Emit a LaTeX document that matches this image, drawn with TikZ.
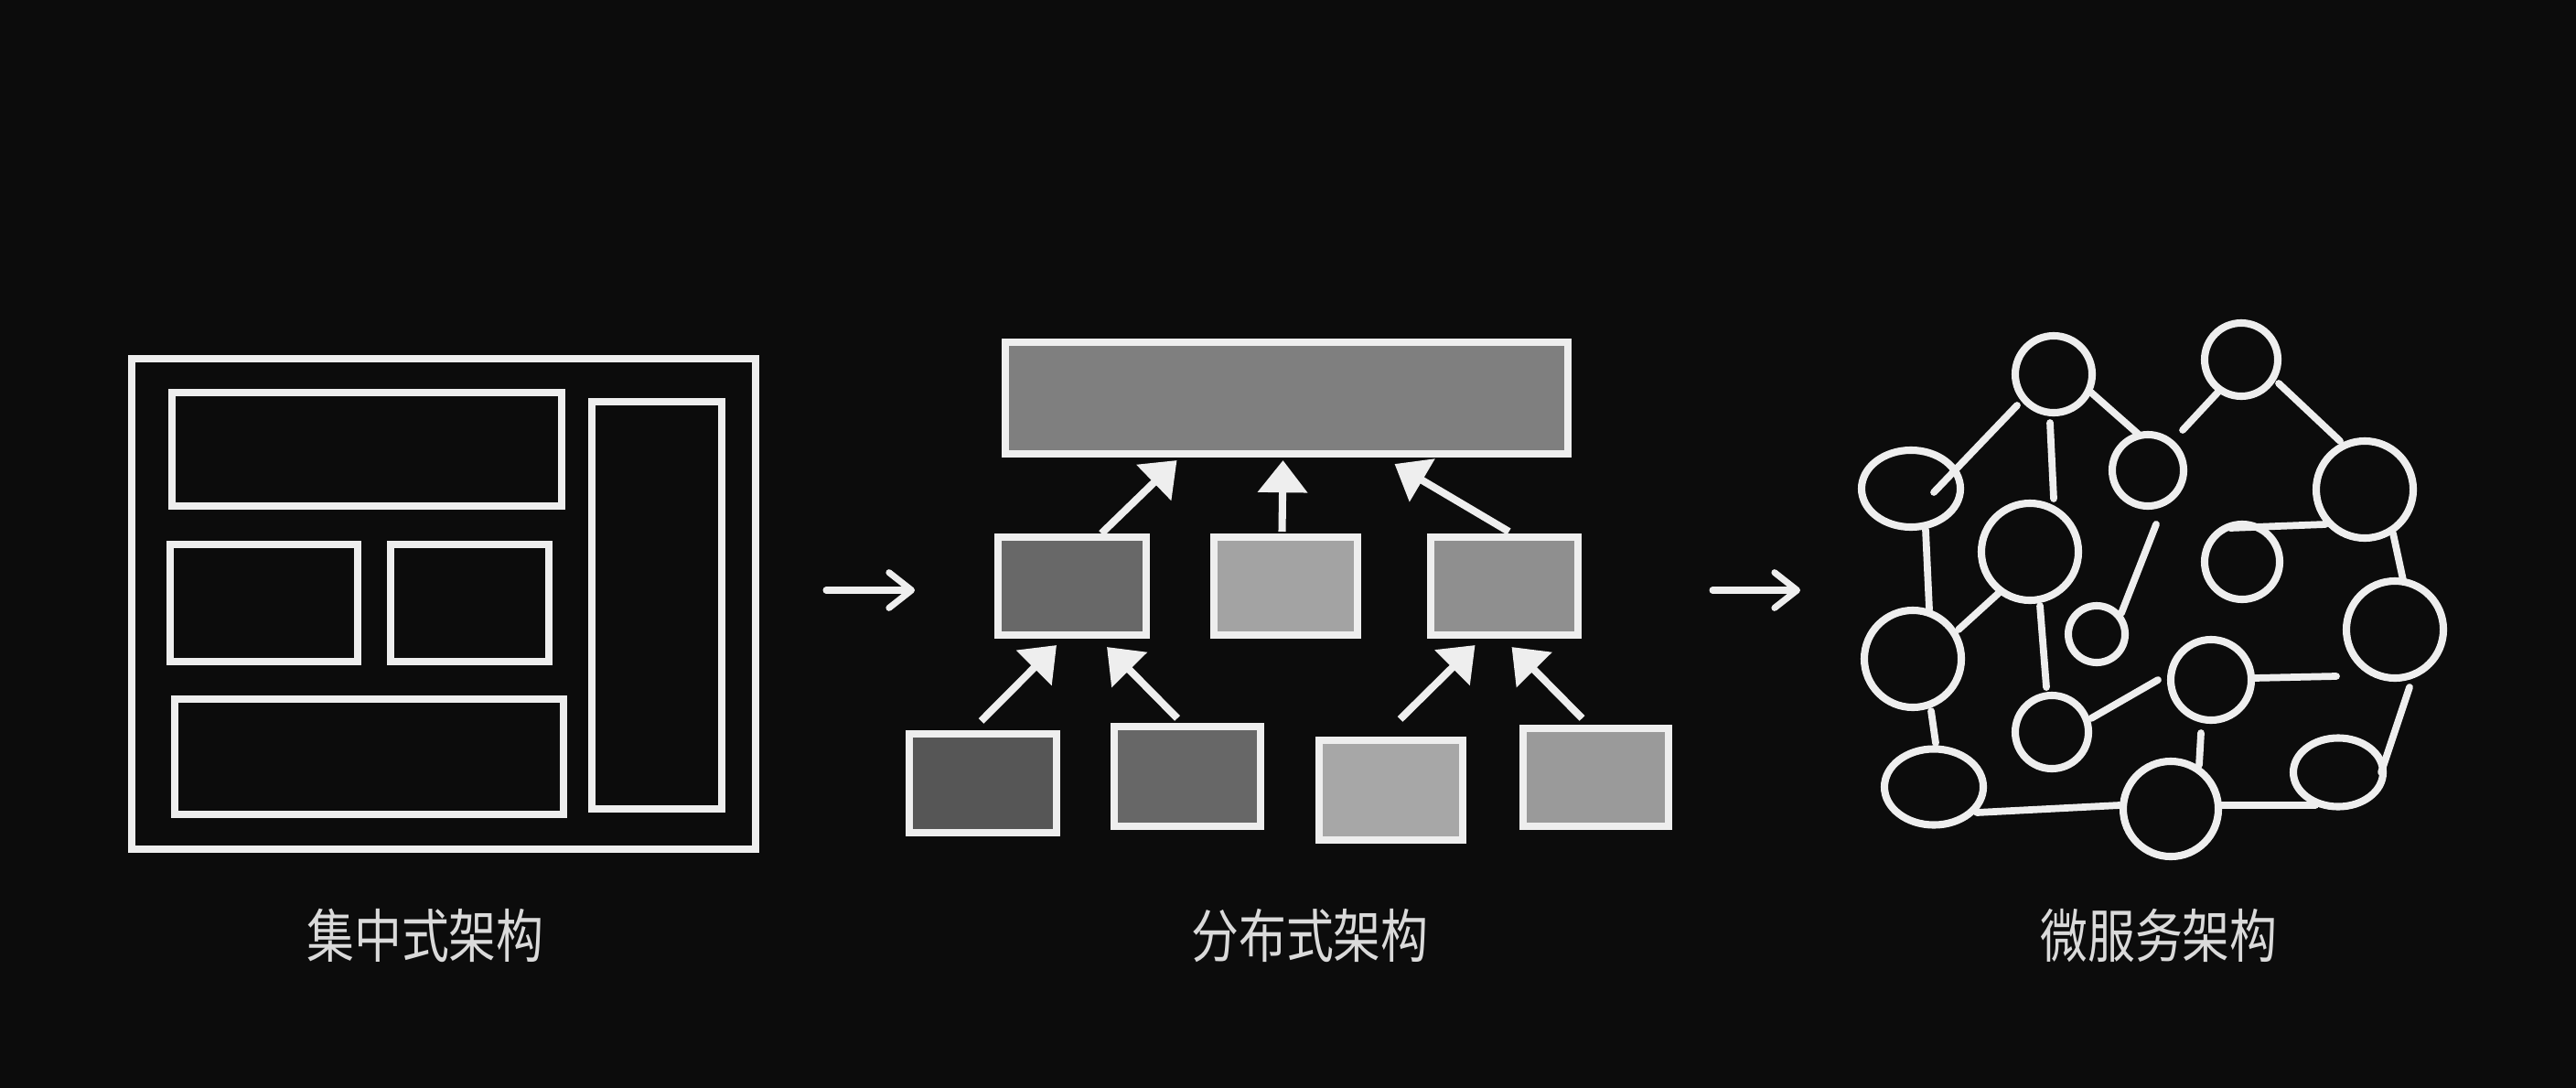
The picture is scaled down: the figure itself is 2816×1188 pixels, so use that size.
\documentclass[tikz,border=0pt]{standalone}
\usepackage{fontspec}
\newfontfamily\cjk{Noto Sans CJK SC}
\usetikzlibrary{arrows.meta,shapes.geometric,calc}
\definecolor{bg}{HTML}{0C0C0C}
\definecolor{chalk}{HTML}{EEEEEE}
\definecolor{labelc}{HTML}{DADADA}
\definecolor{gtop}{HTML}{7F7F7F}
\definecolor{gml}{HTML}{686868}
\definecolor{gmm}{HTML}{A3A3A3}
\definecolor{gmr}{HTML}{8F8F8F}
\definecolor{gbone}{HTML}{565656}
\definecolor{gbtwo}{HTML}{676767}
\definecolor{gbthree}{HTML}{A7A7A7}
\definecolor{gbfour}{HTML}{9A9A9A}
\tikzset{
  frame/.style={rectangle, draw=chalk, line width=2.3pt, inner sep=0pt, outer sep=0pt, fill=bg},
  gbox/.style={frame, fill=#1},
  ring/.style={circle, draw=chalk, line width=2.3pt, inner sep=0pt, outer sep=0pt, minimum size=#1},
  oval/.style 2 args={ellipse, draw=chalk, line width=2.3pt, inner sep=0pt, outer sep=0pt, minimum width=#1, minimum height=#2},
  link/.style={draw=chalk, line width=2.2pt, line cap=round},
  upar/.style={draw=chalk, line width=2.3pt, -{Triangle[width=15pt,length=10pt]}},
  flow/.style={draw=chalk, line width=2pt, line cap=round, -{Straight Barb[length=7pt,width=11pt,line cap=round,line join=round]}},
  title/.style={text=labelc, font=\cjk\fontsize{18pt}{20pt}\selectfont, inner sep=0pt}
}
\begin{document}
\begin{tikzpicture}[x=0.01cm,y=-0.01cm]
\useasboundingbox (0,0) rectangle (2816,1188);
\fill[bg] (-20,-20) rectangle (2836,1208);

% ---------- panel 1: centralized ----------
\node[frame, minimum width=6.82cm, minimum height=5.36cm] (outer) at (485,660) {};
\node[frame, minimum width=4.26cm, minimum height=1.24cm] (p1top) at (401,491) {};
\node[frame, minimum width=2.05cm, minimum height=1.28cm] (p1ml) at (288.5,659) {};
\node[frame, minimum width=1.73cm, minimum height=1.28cm] (p1mr) at (513.5,659) {};
\node[frame, minimum width=4.25cm, minimum height=1.26cm] (p1bot) at (403.5,827) {};
\node[frame, minimum width=1.42cm, minimum height=4.45cm] (p1side) at (718,661.5) {};
\node[title] (t1) at (465,1022) {\scalebox{0.82}[1]{集中式架构}};

% ---------- panel 2: distributed ----------
\node[gbox=gtop, minimum width=6.15cm, minimum height=1.22cm] (top) at (1406.5,435) {};
\node[gbox=gml, minimum width=1.62cm, minimum height=1.07cm] (ml) at (1172,640.5) {};
\node[gbox=gmm, minimum width=1.57cm, minimum height=1.07cm] (mm) at (1405.5,640.5) {};
\node[gbox=gmr, minimum width=1.61cm, minimum height=1.07cm] (mr) at (1644.5,640.5) {};
\node[gbox=gbone, minimum width=1.61cm, minimum height=1.08cm] (b1) at (1074.5,856) {};
\node[gbox=gbtwo, minimum width=1.60cm, minimum height=1.09cm] (b2) at (1298,848.5) {};
\node[gbox=gbthree, minimum width=1.57cm, minimum height=1.09cm] (b3) at (1520.5,863.5) {};
\node[gbox=gbfour, minimum width=1.59cm, minimum height=1.07cm] (b4) at (1744.5,849.5) {};
\node[title] (t2) at (1432,1022) {\scalebox{0.82}[1]{分布式架构}};

\draw[upar] ($(ml.north)+(32,-4)$) -- ($(top.south)+(-120,7)$);
\draw[upar] ($(mm.north)+(-4,-6)$) -- ($(top.south)+(-4,7)$);
\draw[upar] ($(mr.north)+(5,-6)$) -- ($(top.south)+(118,11)$);
\draw[upar] ($(b1.north)+(-2,-14)$) -- ($(ml.south)+(-17,11)$);
\draw[upar] ($(b2.north)+(-11,-9)$) -- ($(ml.south)+(38,13)$);
\draw[upar] ($(b3.north)+(10,-23)$) -- ($(mr.south)+(-32,11)$);
\draw[upar] ($(b4.north)+(-15,-11)$) -- ($(mr.south)+(8,13)$);

% ---------- panel arrows ----------
\coordinate (f1s) at (903,645);
\coordinate (f1e) at (1000,645);
\coordinate (f2s) at (1872,645);
\coordinate (f2e) at (1968,645);
\draw[flow] (f1s) -- (f1e);
\draw[flow] (f2s) -- (f2e);

% ---------- panel 3: microservices ----------
\node[ring=0.84cm] (c1) at (2245,409) {};
\node[ring=0.80cm] (c2) at (2450,393) {};
\node[ring=0.78cm] (c3) at (2348,514) {};
\node[oval={1.08cm}{0.84cm}] (c4) at (2089,534) {};
\node[ring=1.06cm] (c5) at (2219,603) {};
\node[ring=1.06cm] (c6) at (2585,535) {};
\node[ring=0.82cm] (c7) at (2451,614) {};
\node[ring=1.06cm] (c8) at (2091,720) {};
\node[ring=0.62cm] (c9) at (2292,693) {};
\node[ring=1.06cm] (c10) at (2618,688) {};
\node[ring=0.88cm] (c11) at (2417,743) {};
\node[ring=0.80cm] (c12) at (2243,800) {};
\node[oval={1.08cm}{0.83cm}] (c13) at (2114,860) {};
\node[ring=1.04cm] (c14) at (2373,884) {};
\node[oval={0.98cm}{0.75cm}] (c15) at (2556,844) {};
\node[title] (t3) at (2360,1022) {\scalebox{0.82}[1]{微服务架构}};

\draw[link] ($(c4)+(25,4)$) -- ($(c1)+(-40,34)$);
\draw[link] ($(c1)+(-4,53)$) -- ($(c5)+(26,-58)$);
\draw[link] ($(c1)+(41,20)$) -- ($(c3)+(-11,-40)$);
\draw[link] ($(c3)+(38,-44)$) -- ($(c2)+(-24,34)$);
\draw[link] ($(c2)+(41,26)$) -- ($(c6)+(-27,-53)$);
\draw[link] ($(c4)+(16,45)$) -- ($(c8)+(18,-54)$);
\draw[link] ($(c8)+(50,-32)$) -- ($(c5)+(-34,45)$);
\draw[link] ($(c5)+(11,59)$) -- ($(c12)+(-6,-49)$);
\draw[link] ($(c3)+(9,59)$) -- ($(c9)+(27,-23)$);
\draw[link] ($(c7)+(-13,-37)$) -- ($(c6)+(-43,38)$);
\draw[link] ($(c6)+(31,48)$) -- ($(c10)+(9,-54)$);
\draw[link] ($(c12)+(43,-15)$) -- ($(c11)+(-58,0)$);
\draw[link] ($(c11)+(47,-2)$) -- ($(c10)+(-64,51)$);
\draw[link] ($(c10)+(16,63)$) -- ($(c15)+(47,0)$);
\draw[link] ($(c8)+(20,57)$) -- ($(c13)+(2,-48)$);
\draw[link] ($(c13)+(47,28)$) -- ($(c14)+(-56,-4)$);
\draw[link] ($(c11)+(-11,58)$) -- ($(c14)+(31,-48)$);
\draw[link] ($(c14)+(53,-4)$) -- ($(c15)+(-25,36)$);
\end{tikzpicture}
\end{document}
